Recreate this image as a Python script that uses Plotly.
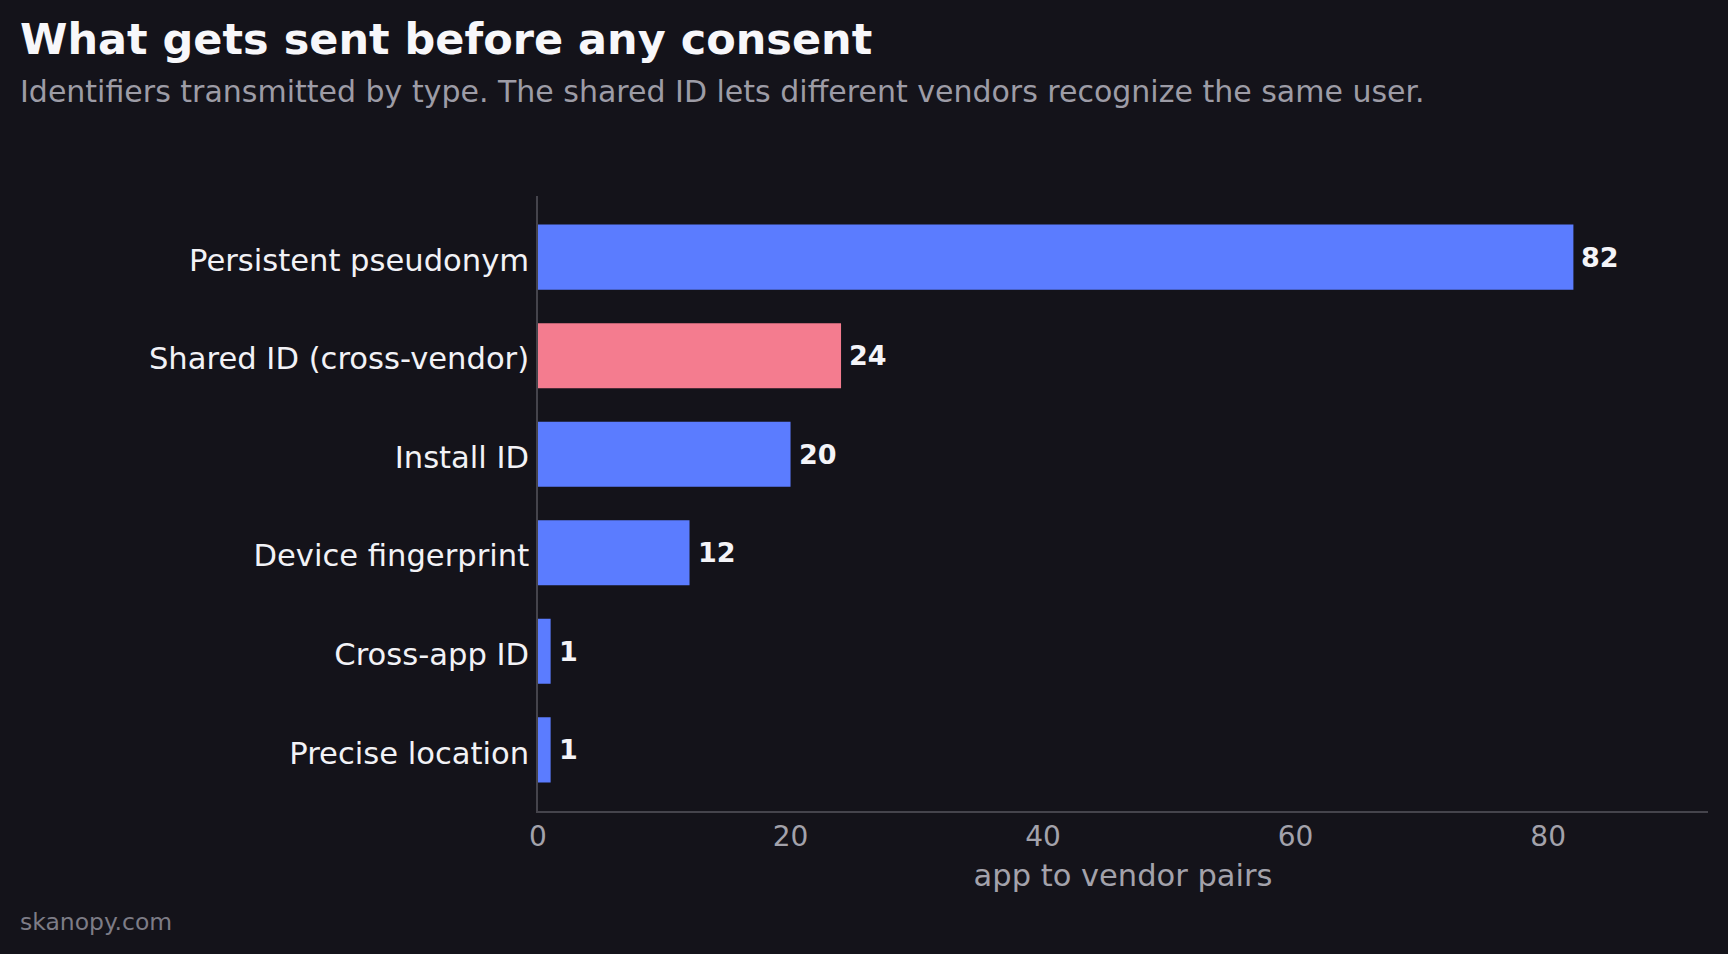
import plotly.graph_objects as go

categories = ["Persistent pseudonym", "Shared ID (cross-vendor)", "Install ID",
              "Device fingerprint", "Cross-app ID", "Precise location"]
values = [82, 24, 20, 12, 1, 1]
highlight = [False, True, False, False, False, False]
x_ticks = [0, 20, 40, 60, 80]

BG = "#14131a"
BLUE = "#5b7cff"
PINK = "#f47c8f"
FONT = "DejaVu Sans"

W, H = 1728, 954
ML, MR, MT, MB = 538, 20, 196, 143
pw, ph = W - ML - MR, H - MT - MB

colors = [PINK if h else BLUE for h in highlight]

fig = go.Figure()
fig.add_trace(go.Bar(
    x=values, y=categories, orientation="h",
    marker=dict(color=colors, line=dict(width=0)),
    width=0.66, hoverinfo="skip",
))

for c, v in zip(categories, values):
    fig.add_annotation(x=v, y=c, xref="x", yref="y", text=f"<b>{v}</b>",
                       showarrow=False, xanchor="left", yanchor="middle", xshift=6,
                       font=dict(family=FONT, size=27, color="#f4f4f8"))

def px_x(px):
    return (px - ML) / pw

def px_y(py):
    return 1 - (py - MT) / ph

fig.add_annotation(xref="paper", yref="paper", x=px_x(18), y=px_y(91),
                   xanchor="left", yanchor="middle", showarrow=False,
                   text="Identifiers transmitted by type. The shared ID lets different vendors recognize the same user.",
                   font=dict(family=FONT, size=30, color="#9d9ca6"))
fig.add_annotation(xref="paper", yref="paper", x=px_x(18), y=px_y(922),
                   xanchor="left", yanchor="middle", showarrow=False,
                   text="skanopy.com",
                   font=dict(family=FONT, size=23.5, color="#7d7c86"))

fig.update_layout(
    width=W, height=H,
    paper_bgcolor=BG, plot_bgcolor=BG,
    margin=dict(l=ML, r=MR, t=MT, b=MB),
    showlegend=False,
    title=dict(text="<b>What gets sent before any consent</b>",
               xref="container", yref="container", x=20 / W, y=1 - 39 / H,
               xanchor="left", yanchor="middle",
               font=dict(family=FONT, size=43, color="#f7f7fa")),
    xaxis=dict(range=[0, 92.66], tickvals=x_ticks, showgrid=False, zeroline=False,
               showline=True, linecolor="#45444c", linewidth=1.5,
               ticks="", tickfont=dict(family=FONT, size=28, color="#a3a2ab"),
               title=dict(text="app to vendor pairs", standoff=12,
                          font=dict(family=FONT, size=30.5, color="#a3a2ab"))),
    yaxis=dict(categoryorder="array", categoryarray=categories,
               range=[len(categories) - 1 + 0.62, -0.62],
               showgrid=False, zeroline=False, showline=True, linecolor="#45444c",
               linewidth=1.5, ticks="", ticklabelstandoff=1, ticklabelshift=-3,
               tickfont=dict(family=FONT, size=30.6, color="#f2f2f6")),
)

fig.write_html("out.html")
